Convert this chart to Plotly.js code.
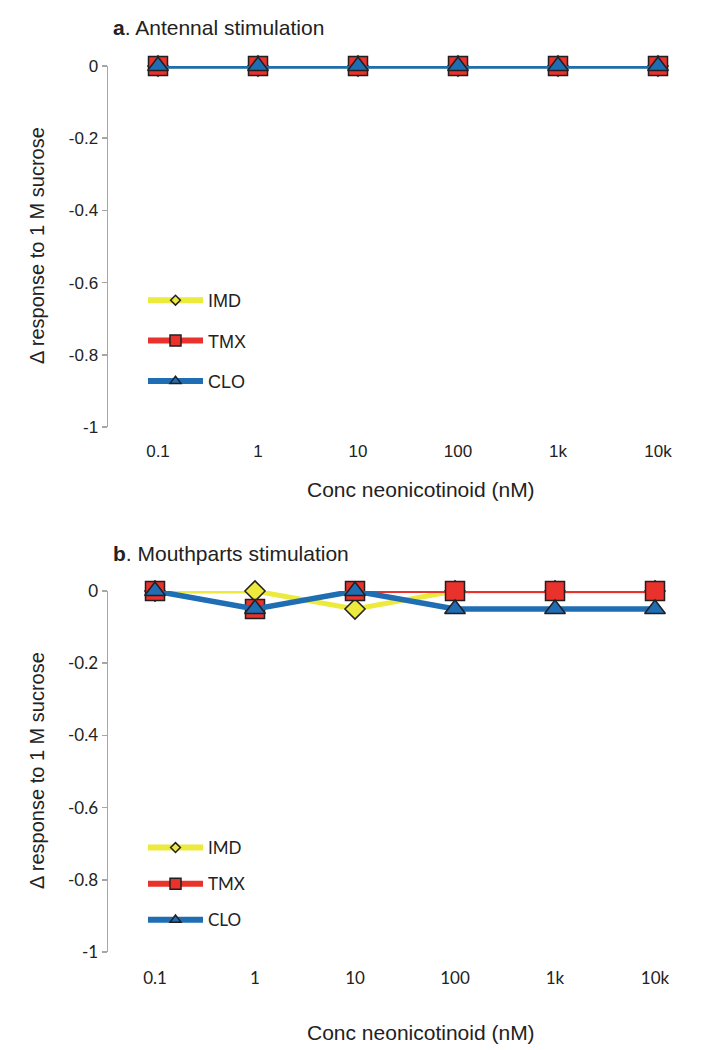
<!DOCTYPE html>
<html>
<head>
<meta charset="utf-8">
<script src="https://cdn.plot.ly/plotly-3.0.1.min.js"></script>
<style>html,body{margin:0;padding:0;background:#fff;}#chart{width:725px;height:1050px;}</style>
</head>
<body>
<div id="chart"></div>
<script>
// ---- data ----
const categories = ["0.1", "1", "10", "100", "1k", "10k"];
const seriesNames = ["IMD", "TMX", "CLO"];
// Panel a: antennal stimulation
const antIMD = [0, 0, 0, 0, 0, 0];
const antTMX = [0, 0, 0, 0, 0, 0];
const antCLO = [0, 0, 0, 0, 0, 0];
// Panel b: mouthparts stimulation
const mouIMD = [0, 0, -0.05, 0, 0, 0];
const mouTMX = [0, -0.05, 0, 0, 0, 0];
const mouCLO = [0, -0.05, 0, -0.05, -0.05, -0.05];
// y tick labels
const yTickVals = [0, -0.2, -0.4, -0.6, -0.8, -1];
const yTickText = ["0", "-0.2", "-0.4", "-0.6", "-0.8", "-1"];
const boundaryVals = [-0.5, 0.5, 1.5, 2.5, 3.5, 4.5, 5.5];

// ---- styles ----
const H = 1050, W = 725;
const py = p => 1 - p / H;
const px = p => p / W;
const colors = ["#ecea3c", "#e8322b", "#1f6db3"];
const lineW = [5, 4, 5.5];
const symbols = ["diamond", "square", "triangle-up"];
const sizes = [15.5, 19, 18];
const legSizes = [7.5, 11, 9.5];
const edge = {color: "#231f20", width: 1.5};
const axisGrey = "#a6a6a6";

function panelTraces(vals, xa, ya, leg) {
  const out = [];
  vals.forEach((v, i) => {
    out.push({
      x: categories, y: v, xaxis: xa, yaxis: ya, type: "scatter", mode: "lines+markers",
      name: seriesNames[i], showlegend: false, cliponaxis: false,
      line: {color: colors[i], width: lineW[i]},
      marker: {symbol: symbols[i], size: sizes[i], color: colors[i], line: edge}
    });
  });
  vals.forEach((v, i) => {
    out.push({
      x: [null], y: [null], xaxis: xa, yaxis: ya, type: "scatter", mode: "lines+markers",
      name: seriesNames[i], legend: leg, legendgroup: leg + i, showlegend: true,
      line: {color: colors[i], width: 6},
      marker: {symbol: symbols[i], size: legSizes[i], color: colors[i], line: edge}
    });
  });
  return out;
}

const data = [
  ...panelTraces([antIMD, antTMX, antCLO], "x", "y", "legend"),
  ...panelTraces([mouIMD, mouTMX, mouCLO], "x2", "y2", "legend2")
];

const fontA = "Liberation Sans, Arial, sans-serif";
const fontB = "Lato, Liberation Sans, sans-serif";

function catAxis(dom, pos, fam) {
  return {
    type: "category", categoryarray: categories, domain: dom, anchor: "free", position: pos,
    range: [-0.5, 5.5], showline: false, ticks: "", showgrid: false, zeroline: false,
    tickfont: {family: fam, size: 17, color: "#222"}, fixedrange: true
  };
}
function boundAxis(dom, over, ya) {
  return {
    overlaying: over, anchor: ya, side: "top", domain: dom, range: [-0.5, 5.5],
    tickvals: boundaryVals, showticklabels: false, ticks: "inside", ticklen: 5, tickcolor: axisGrey,
    tickwidth: 1.5, showline: true, linecolor: axisGrey, linewidth: 1.5, showgrid: false, zeroline: false
  };
}
function valAxis(dom, xa, fam) {
  return {
    domain: dom, anchor: xa, range: [-1, 0], tickvals: yTickVals, ticktext: yTickText,
    showline: true, linecolor: axisGrey, linewidth: 1.5, ticks: "outside", ticklen: 5,
    tickcolor: axisGrey, tickwidth: 1.5, showgrid: false, zeroline: false,
    tickfont: {family: fam, size: 17, color: "#222"}, fixedrange: true
  };
}

const domXA = [px(108), px(708)];
const domXB = [px(105), px(705)];
const domYA = [py(427), py(66)];
const domYB = [py(952), py(591)];

const titleFont = {family: fontA, size: 21, color: "#222"};

const layout = {
  width: W, height: H, margin: {l: 0, r: 0, t: 0, b: 0},
  paper_bgcolor: "#fff", plot_bgcolor: "rgba(0,0,0,0)",
  font: {family: fontA, color: "#222"},
  xaxis: catAxis(domXA, py(439), fontA),
  yaxis: valAxis(domYA, "x3", fontA),
  xaxis3: boundAxis(domXA, "x", "y"),
  xaxis2: catAxis(domXB, py(966), fontB),
  yaxis2: valAxis(domYB, "x4", fontB),
  xaxis4: boundAxis(domXB, "x2", "y2"),
  legend: {
    x: px(143), y: py(282), xanchor: "left", yanchor: "top", bgcolor: "rgba(0,0,0,0)",
    font: {family: fontA, size: 18, color: "#222"}, itemwidth: 55, tracegroupgap: 14, itemclick: false
  },
  legend2: {
    x: px(143), y: py(830), xanchor: "left", yanchor: "top", bgcolor: "rgba(0,0,0,0)",
    font: {family: fontB, size: 17, color: "#222"}, itemwidth: 55, tracegroupgap: 11, itemclick: false
  },
  annotations: [
    {text: "<b>a</b>. Antennal stimulation", xref: "paper", yref: "paper", x: px(111), y: py(28),
     xanchor: "left", yanchor: "middle", showarrow: false, font: titleFont},
    {text: "<b>b</b>. Mouthparts stimulation", xref: "paper", yref: "paper", x: px(111), y: py(553),
     xanchor: "left", yanchor: "middle", showarrow: false, font: titleFont},
    {text: "Conc neonicotinoid (nM)", xref: "paper", yref: "paper", x: px(421), y: py(489),
     xanchor: "center", yanchor: "middle", showarrow: false, font: titleFont},
    {text: "Conc neonicotinoid (nM)", xref: "paper", yref: "paper", x: px(421), y: py(1032),
     xanchor: "center", yanchor: "middle", showarrow: false, font: titleFont},
    {text: "Δ response to 1 M sucrose", xref: "paper", yref: "paper", x: px(37), y: py(246),
     xanchor: "center", yanchor: "middle", textangle: -90, showarrow: false, font: {family: fontA, size: 20, color: "#222"}},
    {text: "Δ response to 1 M sucrose", xref: "paper", yref: "paper", x: px(37), y: py(771),
     xanchor: "center", yanchor: "middle", textangle: -90, showarrow: false, font: {family: fontA, size: 20, color: "#222"}}
  ]
};

Plotly.newPlot("chart", data, layout, {displayModeBar: false, staticPlot: true});
</script>
</body>
</html>
